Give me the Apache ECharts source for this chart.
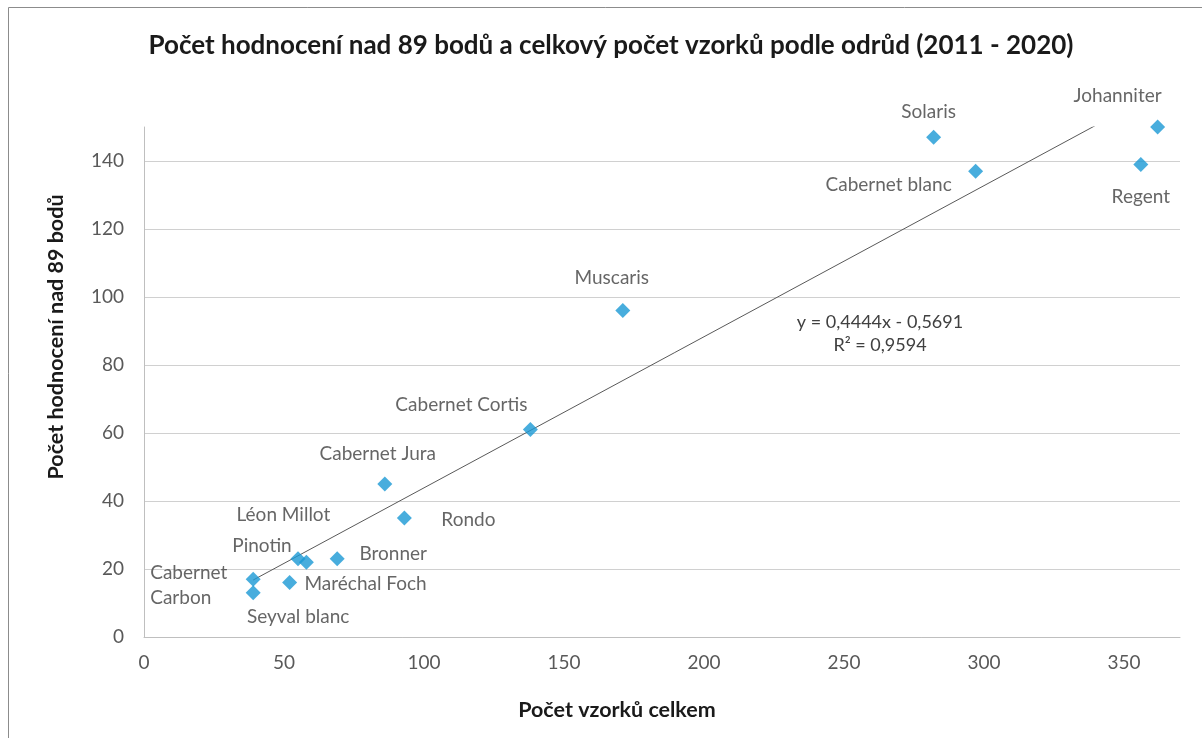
<!DOCTYPE html>
<html><head><meta charset="utf-8">
<script src="https://cdn.jsdelivr.net/npm/echarts@6/dist/echarts.min.js"></script>
<style>html,body{margin:0;padding:0;background:#fff}#c{width:1202px;height:738px}</style>
</head><body><div id="c"></div>
<script>
// ---- data ----
const varieties = ['Solaris','Johanniter','Cabernet blanc','Regent','Muscaris','Cabernet Cortis','Cabernet Jura','Rondo','Léon Millot','Pinotin','Bronner','Cabernet\nCarbon','Maréchal Foch','Seyval blanc'];
const totalSamples = [282, 362, 297, 356, 171, 138, 86, 93, 58, 55, 69, 39, 52, 39];
const ratingsOver89 = [147, 150, 137, 139, 96, 61, 45, 35, 22, 23, 23, 17, 16, 13];
const trendSlope = 0.4444;
const trendIntercept = -0.5691;
const rSquared = '0,9594';
const titleText = 'Počet hodnocení nad 89 bodů a celkový počet vzorků podle odrůd (2011 - 2020)';
const xAxisName = 'Počet vzorků celkem';
const yAxisName = 'Počet hodnocení nad 89 bodů';

// ---- label placement (style only) ----
const labelOffsets = {
  'Solaris':[-5,-25], 'Johanniter':[-40,-31], 'Cabernet blanc':[-87,14], 'Regent':[0,32],
  'Muscaris':[-11,-33], 'Cabernet Cortis':[-69,-25], 'Cabernet Jura':[-7,-30], 'Rondo':[64,2],
  'Léon Millot':[-23,-47], 'Pinotin':[-36,-13], 'Bronner':[56,-5], 'Cabernet\nCarbon':[-103,6],
  'Maréchal Foch':[76,1], 'Seyval blanc':[45,24]
};

const FONT = 'Lato';
const scatterData = varieties.map((n, i) => {
  const off = labelOffsets[n] || [0,0];
  const lbl = {show:true, position:'inside', offset:off, formatter:n, color:'#404040', fontSize:19, fontFamily:FONT, lineHeight:25};
  if (n === 'Cabernet\nCarbon') lbl.align = 'left';
  return {name:n, value:[totalSamples[i], ratingsOver89[i]], label:lbl};
});
const minX = Math.min(...totalSamples), maxX = Math.max(...totalSamples);
const trendData = [[minX, trendSlope*minX + trendIntercept], [maxX, trendSlope*maxX + trendIntercept]];

const chart = echarts.init(document.getElementById('c'), null, {renderer:'canvas'});
chart.setOption({
  animation:false,
  backgroundColor:'#ffffff',
  title:{text:titleText, left:606, top:28, textAlign:'center',
    textStyle:{fontFamily:FONT, fontWeight:'bold', fontSize:26, color:'#1a1a1a'}},
  grid:{left:144, top:127, width:1036, height:510, containLabel:false},
  xAxis:{type:'value', min:0, max:370, interval:50,
    axisLine:{show:true, lineStyle:{color:'#bfbfbf'}}, axisTick:{show:false},
    splitLine:{show:false},
    axisLabel:{showMaxLabel:false, color:'#595959', fontFamily:FONT, fontSize:19, margin:16}},
  yAxis:{type:'value', min:0, max:150, interval:20,
    axisLine:{show:true, lineStyle:{color:'#bfbfbf'}}, axisTick:{show:false},
    splitLine:{show:true, showMaxLine:false, lineStyle:{color:'#d0d0d0'}},
    axisLabel:{showMaxLabel:false, color:'#595959', fontFamily:FONT, fontSize:19, margin:20}},
  graphic:[
    {type:'rect', shape:{x:8.5, y:7.5, width:1300, height:800}, style:{fill:'none', stroke:'#8c8c8c', lineWidth:1}, silent:true, z:-1},
    {type:'text', x:880, y:322, style:{text:'y = 0,4444x - 0,5691', fill:'#404040', font:'18px '+FONT, textAlign:'center', textVerticalAlign:'middle'}},
    {type:'text', x:880, y:345, style:{text:'R² = ' + rSquared, fill:'#404040', font:'18px '+FONT, textAlign:'center', textVerticalAlign:'middle'}},
    {type:'text', x:617, y:710, style:{text:xAxisName, fill:'#1a1a1a', font:'bold 21.5px '+FONT, textAlign:'center', textVerticalAlign:'middle'}},
    {type:'text', x:56, y:337, rotation:Math.PI/2, style:{text:yAxisName, fill:'#1a1a1a', font:'bold 21.5px '+FONT, textAlign:'center', textVerticalAlign:'middle'}}
  ],
  series:[
    {type:'line', data:trendData, showSymbol:false, symbol:'none', clip:true,
      lineStyle:{color:'#595959', width:1}, z:1, silent:true},
    {type:'scatter', data:scatterData, symbol:'diamond', symbolSize:15,
      itemStyle:{color:'#1A98D5'}, z:3}
  ]
});
</script></body></html>
